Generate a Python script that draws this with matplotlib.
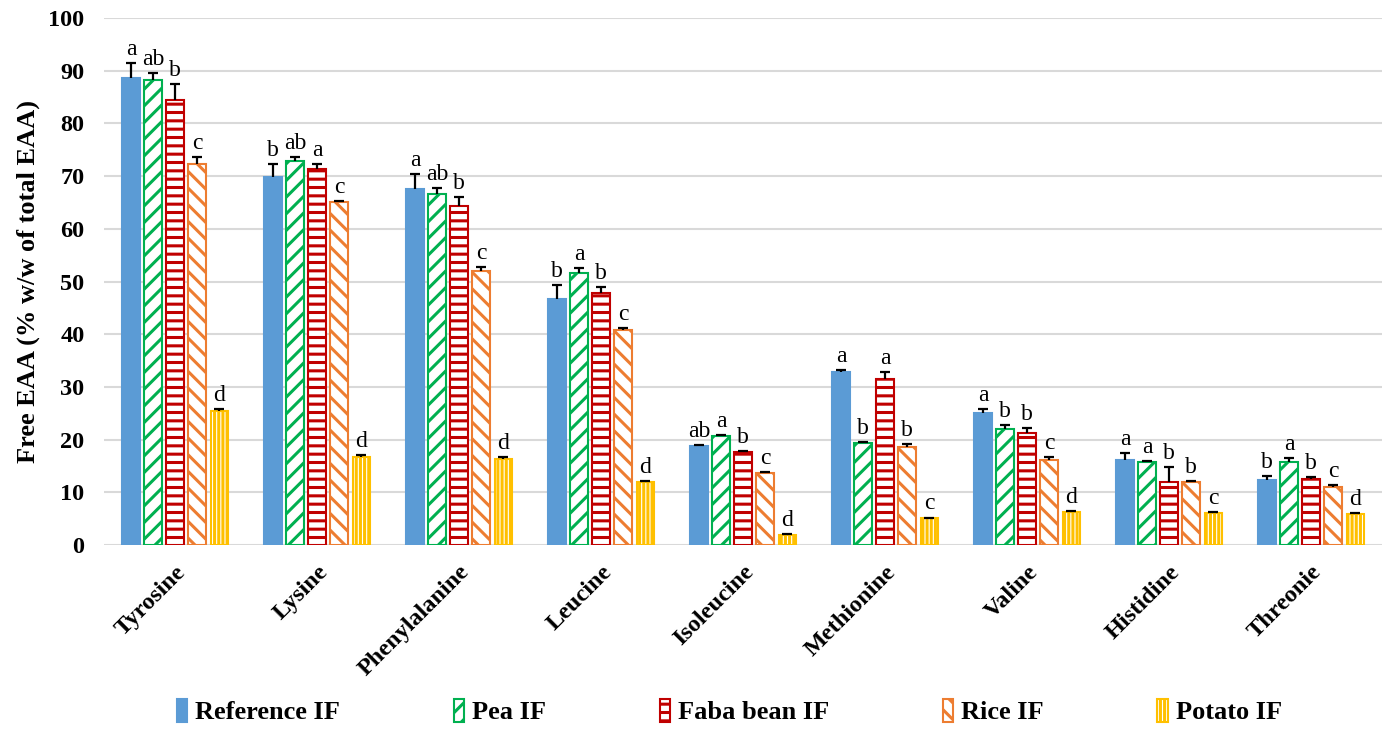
import numpy as np
import matplotlib
matplotlib.use("Agg")
from matplotlib import pyplot as plt

plt.rcParams['font.family'] = ['Liberation Serif', 'DejaVu Serif']
plt.rcParams['hatch.linewidth'] = 2.2

amino = ["Tyrosine", "Lysine", "Phenylalanine", "Leucine", "Isoleucine",
         "Methionine", "Valine", "Histidine", "Threonie"]
series = ["Reference IF", "Pea IF", "Faba bean IF", "Rice IF", "Potato IF"]

# mean values (% w/w of total EAA)
reference = [88.6, 69.8, 67.6, 46.7, 18.8, 32.8, 25.0, 16.1, 12.3]
pea = [88.2, 72.9, 66.6, 51.6, 20.7, 19.4, 22.0, 15.8, 15.8]
faba = [84.4, 71.3, 64.3, 47.8, 17.6, 31.5, 21.3, 12.0, 12.5]
rice = [72.3, 65.1, 52.0, 40.8, 13.7, 18.6, 16.1, 12.0, 11.0]
potato = [25.4, 16.7, 16.3, 12.0, 1.9, 5.1, 6.3, 6.1, 5.9]

# upper error (sd)
err_reference = [2.8, 2.5, 2.8, 2.6, 0.2, 0.4, 0.8, 1.3, 0.8]
err_pea = [1.3, 0.7, 1.1, 1.0, 0.2, 0.2, 0.8, 0.2, 0.7]
err_faba = [3.1, 1.0, 1.7, 1.2, 0.3, 1.3, 0.9, 2.8, 0.4]
err_rice = [1.3, 0.2, 0.8, 0.4, 0.2, 0.6, 0.6, 0.2, 0.4]
err_potato = [0.4, 0.4, 0.4, 0.2, 0.1, 0.1, 0.1, 0.1, 0.1]

# significance letters
let_reference = ["a", "b", "a", "b", "ab", "a", "a", "a", "b"]
let_pea = ["ab", "ab", "ab", "a", "a", "b", "b", "a", "a"]
let_faba = ["b", "a", "b", "b", "b", "a", "b", "b", "b"]
let_rice = ["c", "c", "c", "c", "c", "b", "c", "b", "c"]
let_potato = ["d", "d", "d", "d", "d", "c", "d", "c", "d"]

values = [reference, pea, faba, rice, potato]
errors = [err_reference, err_pea, err_faba, err_rice, err_potato]
letters = [let_reference, let_pea, let_faba, let_rice, let_potato]

styles = [
    dict(color="#5B9BD5", edgecolor="#5B9BD5", hatch=None),
    dict(color="white", edgecolor="#00B050", hatch="//"),
    dict(color="white", edgecolor="#C00000", hatch="--"),
    dict(color="white", edgecolor="#ED7D31", hatch="\\\\"),
    dict(color="white", edgecolor="#FFC000", hatch="||||"),
]

fig = plt.figure(figsize=(13.84, 7.35), dpi=100)
ax = fig.add_axes([104 / 1384, 1 - 545 / 735, 1278 / 1384, 527 / 735])

x = np.arange(len(amino))
step = 0.155
width = 0.12
cap = 0.035
for i in range(len(series)):
    pos = x + (i - 2) * step
    vals = np.array(values[i])
    tops = vals + np.array(errors[i])
    ax.bar(pos, vals, width, label=series[i], linewidth=1.5, zorder=2, **styles[i])
    # plus-only error bars (Excel style)
    ax.vlines(pos, vals, tops, color="black", linewidth=1.6, zorder=3)
    ax.hlines(tops, pos - cap, pos + cap, color="black", linewidth=1.6, zorder=3)
    for p, t, lab in zip(pos, tops, letters[i]):
        ax.text(p, t + 0.6, lab, ha="center", va="bottom", fontsize=17)

ax.set_xlim(-0.5, 8.5)
ax.set_ylim(0, 100)
ax.set_yticks(range(0, 101, 10))
ax.yaxis.grid(True, color="#D9D9D9", linewidth=1.5, zorder=0)
ax.set_axisbelow(True)
for s in ax.spines.values():
    s.set_visible(False)
ax.tick_params(length=0)
ax.set_xticks(x)
ax.set_xticklabels(amino, rotation=45, ha="right", rotation_mode="anchor",
                   fontsize=17.5, fontweight="bold")
for lab in ax.get_yticklabels():
    lab.set_fontsize(17.5)
    lab.set_fontweight("bold")
ax.tick_params(axis="x", pad=12)
ax.tick_params(axis="y", pad=14)
ax.set_ylabel("Free EAA (% w/w of total EAA)", fontsize=19, fontweight="bold", labelpad=6)

fig.legend(loc="center", bbox_to_anchor=(0.527, 0.032), ncol=5, frameon=False,
           prop=dict(size=19, weight="bold"), handlelength=0.4, handleheight=1.0,
           handletextpad=0.3, columnspacing=4.3)

fig.savefig("out.png", dpi=100)
